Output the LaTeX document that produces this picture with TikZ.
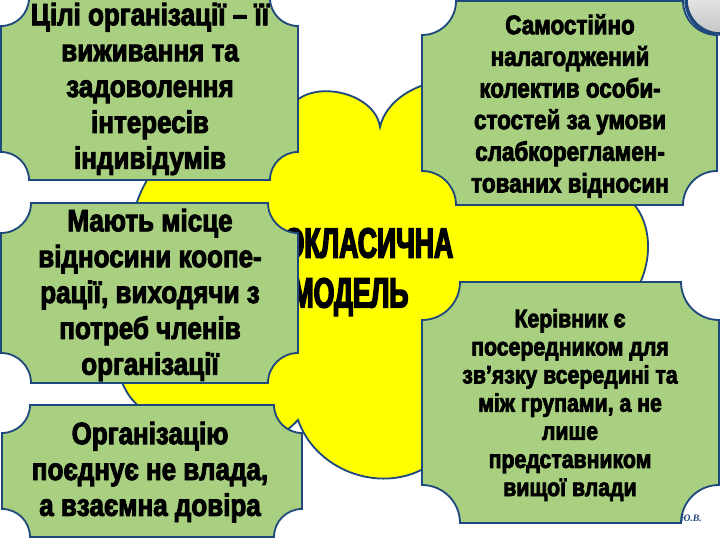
\documentclass[tikz,border=0pt]{standalone}
\usepackage{fontspec}
\usepackage{xcolor}
\usepackage{tikz}
\newfontfamily\boxfont{Liberation Sans}[FakeStretch=0.84,BoldFeatures={FakeBold=3}]
\newfontfamily\modelfont{Liberation Sans}[FakeStretch=0.63,BoldFeatures={FakeBold=3.5}]
\newfontfamily\initfont{Liberation Serif}
\definecolor{boxgreen}{RGB}{168,208,128}
\definecolor{boxline}{RGB}{31,73,125}
\definecolor{cloudyellow}{RGB}{255,255,0}
% plaque: x1, y1, x2, y2, corner radius
\newcommand{\plaque}[5]{%
  \filldraw[plaquebox] (#1+#5,#2) -- (#3-#5,#2) arc[start angle=180,end angle=90,radius=#5]
    -- (#3,#4-#5) arc[start angle=270,end angle=180,radius=#5]
    -- (#1+#5,#4) arc[start angle=0,end angle=-90,radius=#5]
    -- (#1,#2+#5) arc[start angle=90,end angle=0,radius=#5] -- cycle;}

\begin{document}
\begin{tikzpicture}[x=0.025cm, y=0.025cm,
    plaquebox/.style={fill=boxgreen, draw=boxline, line width=1.3pt},
    bigtext/.style={font=\boxfont\bfseries\fontsize{22}{25.5}\selectfont, align=center},
    smalltext/.style={font=\boxfont\bfseries\fontsize{19}{22.5}\selectfont, align=center}]
    \useasboundingbox (0,0) rectangle (720,540);
    \clip (0,0) rectangle (720,540);

    % Cloud
    \filldraw[fill=cloudyellow, draw=boxline, line width=1.3pt]
      (290,432) to[bend left=70] (380,413) to[bend left=70] (520,430)
      to[bend left=60] (630,340) to[bend left=60] (600,220)
      to[bend left=50] (425,72) to[bend left=50] (298,120)
      to[bend left=50] (148,128) to[bend left=65] (150,250)
      to[bend left=60] (200,400) to[bend left=60] cycle;
    \node[font=\modelfont\bfseries\fontsize{30}{35.5}\selectfont, align=center] (model) at (350,268) {НЕОКЛАСИЧНА\\МОДЕЛЬ};

    % Boxes
    \plaque{1}{360}{298}{542}{28}
    \node[bigtext] (goals) at (150,451) {Цілі організації – її\\виживання та\\задоволення\\інтересів\\індивідумів};

    \plaque{422}{335}{717}{539}{34}
    \node[smalltext] (team) at (570,434) {Самостійно\\налагоджений\\колектив особи-\\стостей за умови\\слабкорегламен-\\тованих відносин};

    \plaque{1}{157}{298}{337}{30}
    \node[bigtext] (coop) at (150,245) {Мають місце\\відносини коопе-\\рації, виходячи з\\потреб членів\\організації};

    \plaque{2}{3}{302}{135}{28}
    \node[bigtext] (trust) at (150,68) {Організацію\\поєднує не влада,\\а взаємна довіра};

    \plaque{422}{17}{719}{258}{38}
    \node[smalltext, font=\boxfont\bfseries\fontsize{18}{20}\selectfont] (leader) at (570,135) {Керівник є\\посередником для\\зв’язку всередині та\\між групами, а не\\лише\\представником\\вищої влади};

    % Corner mark
    \filldraw[draw=boxline, line width=2.5pt, top color=white, bottom color=gray!45] (720,540) circle[radius=34];
    \node[font=\initfont\bfseries\itshape\fontsize{7}{8}\selectfont, text=boxline] (initials) at (691,22) {Ю.В.};
\end{tikzpicture}
\end{document}
